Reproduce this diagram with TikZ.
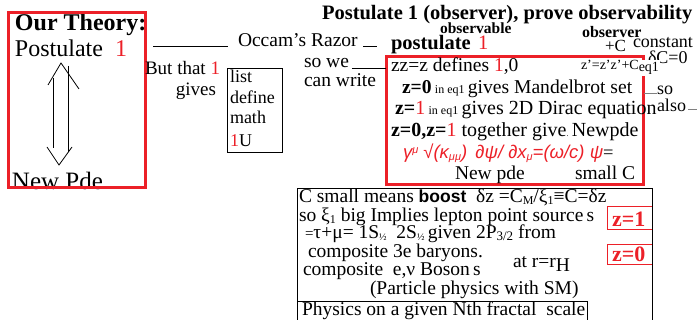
\documentclass[tikz,border=0pt]{standalone}
\usepackage{fontspec}
\setmainfont{Liberation Serif}
\setsansfont{Liberation Sans}
\definecolor{rd}{RGB}{236,32,40}
\newcommand\myfs[1]{\fontsize{#1}{#1}\selectfont}
\newcommand\mysub[2][12]{\raisebox{-2pt}{\myfs{#1}#2}}
\newcommand\mysup[2][11]{\raisebox{5pt}{\myfs{#1}#2}}
\begin{document}
\begin{tikzpicture}[x=1pt,y=-1pt,
  t/.style={anchor=base west, inner sep=0pt, outer sep=0pt},
  tr/.style={anchor=base east, inner sep=0pt, outer sep=0pt},
  rbox/.style={draw=rd, line width=3pt},
  thinline/.style={line width=0.8pt},
  conn/.style={line width=0.8pt},
  greyline/.style={gray, line width=0.6pt}]
\useasboundingbox (0,0) rectangle (697,320);
\begin{scope}
\clip (0,0) rectangle (697,320);
% ---------- left box ----------
\node[t,font=\bfseries\myfs{24}] (our) at (15,31) {Our Theory:};
\node[t,font=\myfs{24}] (post) at (15,57) {Postulate};
\node[t,font=\myfs{24},text=rd] (post1) at (115,57) {1};
\node[t,font=\myfs{25}] (pde) at (12,190) {New Pde};
\draw[rbox] (8,13) rectangle (145,188);
% hand drawn double arrow
\coordinate (atop) at (61,63);
\coordinate (abot) at (59,165);
\draw[line width=0.8pt] (53,78) -- (53,148);
\draw[line width=0.8pt] (68,66) -- (68,152);
\draw[line width=0.8pt] (48,85) -- (atop) -- (79,89);
\draw[line width=0.8pt] (47,147) -- (abot) -- (72,147);
% ---------- middle left ----------
\node[t,font=\myfs{19.5}] (occam) at (238,47) {Occam's Razor};
\coordinate (l1a) at (153,46);
\draw[conn] (l1a) -- ([xshift=-10pt]occam.base west |- l1a);
\node[tr,font=\myfs{19}] (but) at (220,75) {But that \textcolor{rd}{1}};
\node[tr,font=\myfs{19}] (gives) at (216,96) {gives};
\draw[thinline] (227,68) rectangle (282,152);
\node[t,font=\myfs{18}] (list) at (230,83) {list};
\node[t,font=\myfs{18}] (define) at (230,104) {define};
\node[t,font=\myfs{18}] (math) at (230,124) {math};
\node[t,font=\myfs{18}] (oneu) at (230,147) {\textcolor{rd}{1}U};
\node[t,font=\myfs{19.5}] (sowe) at (304,68) {so we};
\node[t,font=\myfs{19.5}] (canw) at (304,87) {can write};
\coordinate (l2a) at (363,46);
\coordinate (l2b) at (377,46);
\draw[conn] (l2a) -- (l2b);
% ---------- top right ----------
\node[t,font=\bfseries\myfs{20.5}] (title) at (322,20) {Postulate 1 (observer), prove observability};
\node[t,font=\bfseries\myfs{15.5}] (obsable) at (440,34) {observable};
\node[t,font=\bfseries\myfs{20.5}] (postul) at (391,50) {postulate};
\node[t,font=\myfs{20.5},text=rd] (postul1) at (478,50) {1};
\node[t,font=\bfseries\myfs{16}] (obser) at (582,38) {observer};
\node[t,font=\myfs{17}] (plusc) at (605,52) {+C};
\node[t,font=\myfs{18}] (const) at (633,48) {constant};
\node[t,font=\myfs{18}] (dc) at (648,64) {δC=0};
% ---------- main red box ----------
\draw[rbox] (386,57) rectangle (643,185);
\node[t,font=\myfs{14},fill=white,inner sep=1pt] (zp) at (580,70) {z'=z'z'+C\raisebox{-2pt}{eq1}};
\draw[conn] (sowe.east |- 0,68) ++(3,0) coordinate (l3a) -- (386,68);
\node[t,font=\myfs{19.5}] (r1) at (391,72) {zz=z defines \textcolor{rd}{1},0};
\node[t,font=\myfs{19.6}] (r2) at (402,94) {{\bfseries z=0}\,{\myfs{12}in eq1}\,gives Mandelbrot set};
\node[t,font=\myfs{20}] (r3) at (395,115) {{\bfseries z=}\textcolor{rd}{1}\,{\myfs{12}in eq1}\,gives 2D Dirac equation};
\node[t,font=\myfs{20}] (r4) at (391,137) {{\bfseries z=0,z=}\textcolor{rd}{1} together give{\myfs{8}.}\,Newpde};
\node[t,font=\myfs{18.5}] (eq) at (403,159) {\textcolor{rd}{\sffamily\itshape γ\mysup{μ} √(κ\mysub[11]{μμ})\, ∂ψ/ ∂x\mysub[11]{μ}=(ω/c) ψ}=};
\node[t,font=\myfs{19.5}] (newpde) at (455,180) {New pde};
\node[t,font=\myfs{19.5}] (smallc) at (575,180) {small C};
\node[t,font=\myfs{18}] (so) at (657,95) {so};
\node[t,font=\myfs{18}] (also) at (657,112) {also};
\draw[greyline] (644,93) -- (so.west |- 0,93) ++(-4,0);
\draw[greyline] (also.east |- 0,109) ++(2,0) -- (697,109);
% ---------- lower black box ----------
\draw[thinline] (297,188) rectangle (652,330);
\draw[thinline] (297,301) rectangle (587,330);
\node[t,font=\myfs{19.5}] (b1) at (299,203) {C small means {\sffamily\bfseries\myfs{17.5}boost}\ \ δz =C\mysub{M}/ξ\mysub{1}≡C=δz};
\node[t,font=\myfs{19.5}] (b2) at (299,222) {so ξ\mysub{1} big Implies lepton point source\,s};
\node[t,font=\myfs{19.5}] (b3) at (305,239) {{\myfs{15}=}τ+μ= 1S\mysub[10]{½}\ \ 2S\mysub[10]{½}\,given 2P\mysub[13]{3/2} from};
\node[t,font=\myfs{19.5}] (b4) at (308,258) {composite 3e baryons.};
\node[t,font=\myfs{19.5}] (b5) at (303,276) {composite\ \ e,ν Boson\,s};
\node[t,font=\myfs{19.5}] (atr) at (513,268) {at r=r\raisebox{-4pt}{H}};
\node[t,font=\myfs{19.5}] (pp) at (370,295) {(Particle physics with SM)};
\node[t,font=\myfs{19.5}] (phys) at (302,316) {Physics on a given Nth fractal\ \ scale};
% red z boxes
\draw[rd, line width=1pt] (607,207) rectangle (652,230);
\node[t,font=\bfseries\myfs{22},text=rd] (z1) at (612,227) {z=1};
\draw[rd, line width=1pt] (607,245) rectangle (652,265);
\node[t,font=\bfseries\myfs{22},text=rd] (z0) at (612,262) {z=0};
\draw[thinline] (652,188) -- (652,330);
\end{scope}
\end{tikzpicture}
\end{document}
